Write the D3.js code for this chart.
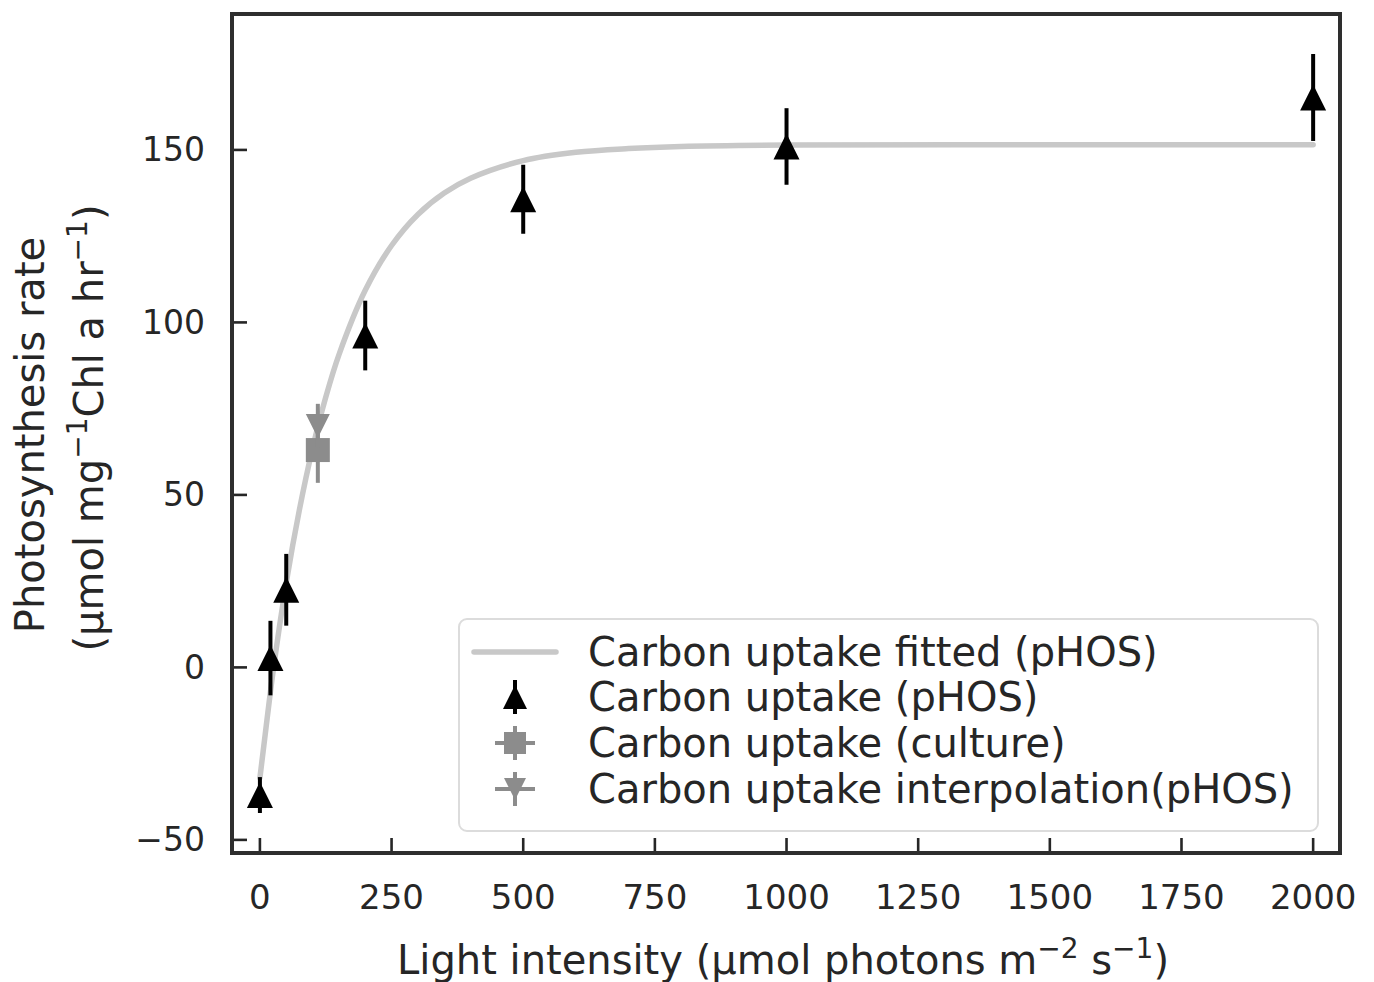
<!DOCTYPE html>
<html>
<head>
<meta charset="utf-8">
<script src="https://cdn.jsdelivr.net/npm/d3@7"></script>
<style>
  body { margin: 0; background: #fff; }
  text { font-family: "DejaVu Sans", sans-serif; fill: #262626; }
</style>
</head>
<body>
<svg id="chart" width="1374" height="982"></svg>
<script>
// Carbon uptake measured in the pHOS at each light level (mean and error)
const pHOSLight = [0, 20, 50, 200, 500, 1000, 2000];
const pHOSRate  = [-37, 2.7, 22.5, 96.2, 135.7, 151, 165.2];
const pHOSErr   = [5.2, 10.8, 10.4, 10.1, 10, 11.1, 12.6];

// Culture measurement and the pHOS value interpolated at the same light level
const cultureLight = [110];
const cultureRate  = [63];
const cultureErr   = [9.5];
const interpLight  = [110];
const interpRate   = [70];
const interpErr    = [6.4];

// Fitted light-response curve (pHOS), sampled along the light axis
const fitLight = [0, 10, 25, 50, 75, 100, 125, 150, 200, 250, 300, 350, 400, 500, 600, 700, 800, 1000, 1500, 2000];
const fitRate  = [-32, -19.5, -1.2, 24.5, 45.7, 63.5, 78.3, 90.6, 109.3, 122.3, 131.3, 137.5, 141.8, 146.9, 149.3, 150.4, 151.0, 151.4, 151.5, 151.5];

const xTicks = [0, 250, 500, 750, 1000, 1250, 1500, 1750, 2000];
const yTicks = [-50, 0, 50, 100, 150];
const legendLabels = [
  "Carbon uptake fitted (pHOS)",
  "Carbon uptake (pHOS)",
  "Carbon uptake (culture)",
  "Carbon uptake interpolation(pHOS)"
];

const svg = d3.select("#chart");
const box = { left: 232, right: 1340, top: 14, bottom: 853 };

const x = d3.scaleLinear().domain([-53, 2051]).range([box.left, box.right]);
const y = d3.scaleLinear().domain([-53.8, 189.4]).range([box.bottom, box.top]);

const dark = "#262626";
const gray = "#8c8c8c";
const fitColor = "#c8c8c8";

// marker shapes, centred on the data point
const triUp = s => `M0,${-s/2}L${s/2},${s/2}L${-s/2},${s/2}Z`;
const triDown = s => `M0,${s/2}L${s/2},${-s/2}L${-s/2},${-s/2}Z`;
const square = s => `M${-s/2},${-s/2}h${s}v${s}h${-s}Z`;

// ticks (pointing inward)
const gTicks = svg.append("g");
xTicks.forEach(t => {
  gTicks.append("line")
    .attr("x1", x(t)).attr("x2", x(t))
    .attr("y1", box.bottom).attr("y2", box.bottom - 15)
    .attr("stroke", dark).attr("stroke-width", 2.6);
  svg.append("text")
    .attr("x", x(t)).attr("y", box.bottom + 44)
    .attr("text-anchor", "middle").attr("dominant-baseline", "central")
    .attr("font-size", 34)
    .text(t);
});
yTicks.forEach(t => {
  gTicks.append("line")
    .attr("x1", box.left).attr("x2", box.left + 15)
    .attr("y1", y(t)).attr("y2", y(t))
    .attr("stroke", dark).attr("stroke-width", 2.6);
  svg.append("text")
    .attr("x", box.left - 27).attr("y", y(t))
    .attr("text-anchor", "end").attr("dominant-baseline", "central")
    .attr("font-size", 33)
    .text(t < 0 ? "\u2212" + Math.abs(t) : t);
});

// fitted curve
const line = d3.line().x(d => x(d[0])).y(d => y(d[1])).curve(d3.curveCatmullRom);
svg.append("path")
  .datum(fitLight.map((v, i) => [v, fitRate[i]]))
  .attr("d", line)
  .attr("fill", "none")
  .attr("stroke", fitColor)
  .attr("stroke-width", 5.5)
  .attr("stroke-linecap", "round");

// error bars with markers
function errorSeries(xs, ys, es, color, shape, size) {
  const g = svg.append("g");
  xs.forEach((xv, i) => {
    g.append("line")
      .attr("x1", x(xv)).attr("x2", x(xv))
      .attr("y1", y(ys[i] - es[i])).attr("y2", y(ys[i] + es[i]))
      .attr("stroke", color).attr("stroke-width", 4);
  });
  xs.forEach((xv, i) => {
    g.append("path")
      .attr("d", shape(size))
      .attr("transform", `translate(${x(xv)},${y(ys[i])})`)
      .attr("fill", color);
  });
}
errorSeries(cultureLight, cultureRate, cultureErr, gray, square, 24);
errorSeries(interpLight, interpRate, interpErr, gray, triDown, 24);
errorSeries(pHOSLight, pHOSRate, pHOSErr, "#000", triUp, 26);

// frame
svg.append("rect")
  .attr("x", box.left).attr("y", box.top)
  .attr("width", box.right - box.left).attr("height", box.bottom - box.top)
  .attr("fill", "none").attr("stroke", "#2e2e2e").attr("stroke-width", 4);

// axis titles
const xl = svg.append("text")
  .attr("x", 783).attr("y", 974)
  .attr("text-anchor", "middle").attr("font-size", 40);
xl.append("tspan").text("Light intensity (\u00b5mol photons m");
xl.append("tspan").attr("dy", -16).attr("font-size", 28).text("\u22122");
xl.append("tspan").attr("dy", 16).text(" s");
xl.append("tspan").attr("dy", -16).attr("font-size", 28).text("\u22121");
xl.append("tspan").attr("dy", 16).text(")");

svg.append("text")
  .attr("transform", "translate(44,435) rotate(-90)")
  .attr("text-anchor", "middle").attr("font-size", 40)
  .text("Photosynthesis rate");
const yl = svg.append("text")
  .attr("transform", "translate(103,428) rotate(-90)")
  .attr("text-anchor", "middle").attr("font-size", 40);
yl.append("tspan").text("(\u00b5mol mg");
yl.append("tspan").attr("dy", -16).attr("font-size", 28).text("\u22121");
yl.append("tspan").attr("dy", 16).text("Chl a hr");
yl.append("tspan").attr("dy", -16).attr("font-size", 28).text("\u22121");
yl.append("tspan").attr("dy", 16).text(")");

// legend
const lg = svg.append("g");
lg.append("rect")
  .attr("x", 459).attr("y", 619).attr("width", 859).attr("height", 212)
  .attr("rx", 8).attr("fill", "#fff").attr("fill-opacity", 0.85)
  .attr("stroke", "#dcdcdc").attr("stroke-width", 2);
const rowY = [652, 697, 743, 789];
const hx = 515;
lg.append("line").attr("x1", 474).attr("x2", 556).attr("y1", rowY[0]).attr("y2", rowY[0])
  .attr("stroke", fitColor).attr("stroke-width", 5.5).attr("stroke-linecap", "round");
lg.append("line").attr("x1", hx).attr("x2", hx).attr("y1", rowY[1] - 17).attr("y2", rowY[1] + 17)
  .attr("stroke", "#000").attr("stroke-width", 4);
lg.append("path").attr("d", triUp(24)).attr("transform", `translate(${hx},${rowY[1]})`).attr("fill", "#000");
[[rowY[2], square], [rowY[3], triDown]].forEach(([ry, shape]) => {
  lg.append("line").attr("x1", hx).attr("x2", hx).attr("y1", ry - 17).attr("y2", ry + 17)
    .attr("stroke", gray).attr("stroke-width", 4);
  lg.append("line").attr("x1", hx - 20).attr("x2", hx + 20).attr("y1", ry).attr("y2", ry)
    .attr("stroke", gray).attr("stroke-width", 4);
  lg.append("path").attr("d", shape(22)).attr("transform", `translate(${hx},${ry})`).attr("fill", gray);
});
legendLabels.forEach((t, i) => {
  lg.append("text").attr("x", 588).attr("y", rowY[i])
    .attr("dominant-baseline", "central").attr("font-size", 40)
    .text(t);
});
</script>
</body>
</html>
